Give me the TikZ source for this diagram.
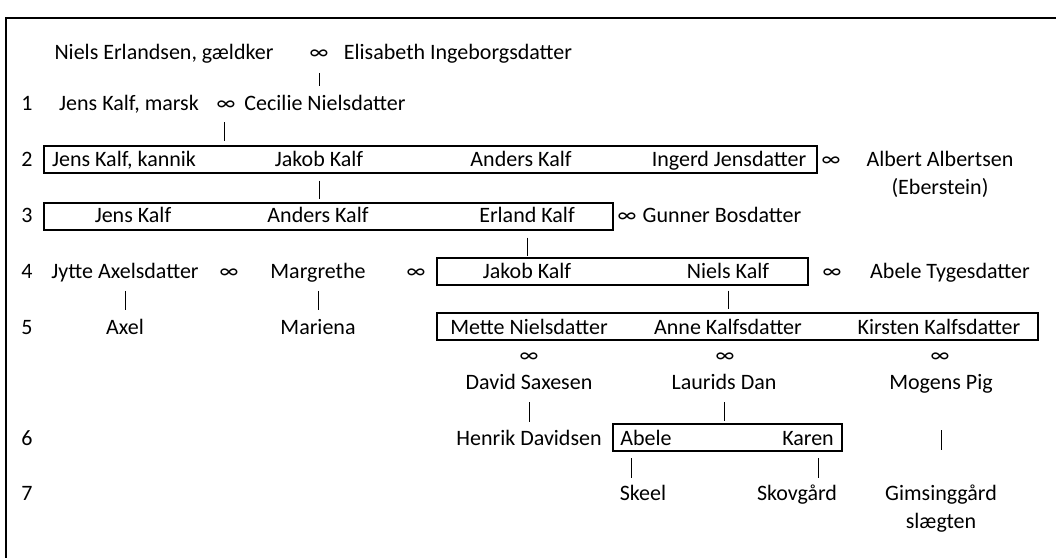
\documentclass[tikz,border=0pt]{standalone}
\usepackage{fontspec}
\setmainfont{Carlito}
\begin{document}
\begin{tikzpicture}[x=1pt,y=-1pt,node distance=28pt,line width=0.9pt,
    every node/.style={font=\fontsize{22}{26}\selectfont,inner sep=0pt,text height=13pt,text depth=0pt},
    fam/.style={draw,line width=1.3pt},
    tie/.style={}]
\useasboundingbox (0,0) rectangle (1056,557);
\draw[line width=2.4pt] (6,18) rectangle (1075,580);

% generation numbers
\node (n1) at (27,104) {1};
\node (n2) at (27,160) {2};
\node (n3) at (27,216) {3};
\node (n4) at (27,272) {4};
\node (n5) at (27,328) {5};
\node (n6) at (27,439) {6};
\node (n7) at (27,494) {7};

% top couple
\node (nie0) at (164,53) {Niels Erlandsen, gældker};
\node[tie] (m0) at (319,53) {∞};
\node (eli0) at (458,53) {Elisabeth Ingeborgsdatter};

% 1
\node (jen1) at (129,104) {Jens Kalf, marsk};
\node[tie] (m1) at (226,104) {∞};
\node (cec1) at (325,104) {Cecilie Nielsdatter};
\coordinate (k1) at (224,104);

% 2
\node[fam,minimum width=773pt,minimum height=27pt] (g2) at (430.5,159.5) {};
\node (jen2) at (124,160) {Jens Kalf, kannik};
\node (jak2) at (319,160) {Jakob Kalf};
\node (and2) at (521,160) {Anders Kalf};
\node (ing2) at (729,160) {Ingerd Jensdatter};
\node[tie] (m2) at (831,160) {∞};
\node (alb2) at (940,160) {Albert Albertsen};
\node (ebe2) [below of=alb2] {(Eberstein)};

% 3
\node[fam,minimum width=569pt,minimum height=27pt] (g3) at (328.5,216.5) {};
\node (jen3) at (133,216) {Jens Kalf};
\node (and3) at (318,216) {Anders Kalf};
\node (erl3) at (527,216) {Erland Kalf};
\node[tie] (m3) at (627,216) {∞};
\node (gun3) at (722,216) {Gunner Bosdatter};

% 4
\node (jyt4) at (125,272) {Jytte Axelsdatter};
\node[tie] (m4a) at (229,272) {∞};
\node (mar4) at (318,272) {Margrethe};
\node[tie] (m4b) at (416,272) {∞};
\node[fam,minimum width=371pt,minimum height=27pt] (g4) at (622.5,271.5) {};
\node (jak4) at (527,272) {Jakob Kalf};
\node (nie4) at (728,272) {Niels Kalf};
\node[tie] (m4c) at (832,272) {∞};
\node (abe4) at (950,272) {Abele Tygesdatter};

% 5
\node (axe5) at (125,328) {Axel};
\node (mar5) at (318,328) {Mariena};
\node[fam,minimum width=601pt,minimum height=27pt] (g5) at (737.5,326.5) {};
\node (met5) at (529,328) {Mette Nielsdatter};
\node (ann5) at (728,328) {Anne Kalfsdatter};
\node (kir5) at (939,328) {Kirsten Kalfsdatter};
\node[tie] (m5a) at (529,356) {∞};
\node[tie] (m5b) at (725,356) {∞};
\node[tie] (m5c) at (940,356) {∞};
\node (dav5) at (529,383) {David Saxesen};
\node (lau5) at (724,383) {Laurids Dan};
\node (mog5) at (941,383) {Mogens Pig};

% 6
\node (hen6) at (529,439) {Henrik Davidsen};
\node[fam,minimum width=229pt,minimum height=27pt] (g6) at (727.5,437.5) {};
\node (abe6) at (646,439) {Abele};
\node (kar6) at (808,439) {Karen};
\coordinate (k6a) at (631,451);
\coordinate (k6b) at (818,451);

% 7
\node (ske7) at (643,494) {Skeel};
\node (sko7) at (797,494) {Skovgård};
\node (gim7) at (941,494) {Gimsinggård};
\node (sla7) [below of=gim7] {slægten};

\draw[shorten <=13pt,shorten >=11pt] (m0) -- (m0 |- cec1.north);
\draw[shorten <=18pt,shorten >=4pt] (k1) -- (k1 |- g2.north);
\draw[shorten <=7pt,shorten >=3pt] (jak2 |- g2.south) -- (jak2 |- g3.north);
\draw[shorten <=7pt,shorten >=1pt] (erl3 |- g3.south) -- (erl3 |- g4.north);
\draw[shorten <=12pt,shorten >=11pt] (jyt4) -- (jyt4 |- axe5.north);
\draw[shorten <=12pt,shorten >=11pt] (mar4) -- (mar4 |- mar5.north);
\draw[shorten <=5pt,shorten >=3pt] (nie4 |- g4.south) -- (nie4 |- g5.north);
\draw[shorten <=12.5pt,shorten >=10.5pt] (dav5) -- (dav5 |- hen6.north);
\draw[shorten <=12.5pt,shorten >=2pt] (lau5) -- (lau5 |- g6.north);
\draw[shorten <=40.5pt,shorten >=37.5pt] (mog5) -- (mog5 |- gim7.north);
\draw[shorten <=7pt,shorten >=9.5pt] (k6a) -- (k6a |- ske7.north);
\draw[shorten <=7pt,shorten >=9.5pt] (k6b) -- (k6b |- sko7.north);
\end{tikzpicture}
\end{document}
